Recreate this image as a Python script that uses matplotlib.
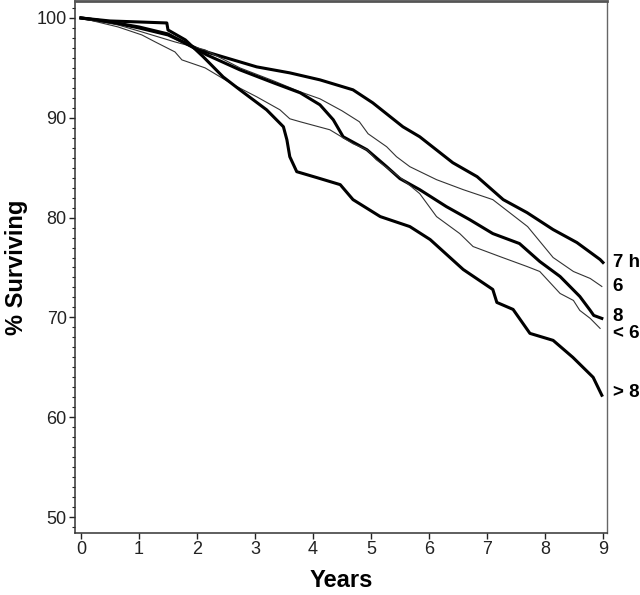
import matplotlib
matplotlib.use("Agg")
import matplotlib.pyplot as plt
from matplotlib.ticker import MultipleLocator

# ---- data ----
t_7h = [0, 0.5, 1.0, 1.5, 2.05, 2.45, 3.03, 3.6, 4.12, 4.69, 5.03, 5.55, 5.84, 6.41, 6.83, 7.28, 7.69, 8.14, 8.55, 8.95, 9.0]
s_7h = [100, 99.6, 99.0, 98.3, 96.8, 96.1, 95.1, 94.5, 93.8, 92.8, 91.5, 89.1, 88.1, 85.5, 84.1, 81.8, 80.5, 78.8, 77.5, 75.8, 75.5]

t_6 = [0, 0.64, 1.05, 1.62, 2.14, 2.74, 3.32, 3.78, 4.12, 4.5, 4.8, 4.95, 5.27, 5.44, 5.67, 6.13, 6.59, 7.1, 7.7, 8.14, 8.49, 8.78, 8.98]
s_6 = [100, 99.3, 98.6, 97.6, 96.8, 95.0, 93.7, 92.6, 91.9, 90.7, 89.6, 88.4, 87.1, 86.1, 85.1, 83.8, 82.8, 81.8, 79.1, 76.0, 74.6, 73.9, 73.1]

t_8 = [0, 0.5, 1.0, 1.5, 2.17, 2.74, 3.32, 3.78, 4.12, 4.35, 4.52, 4.93, 5.27, 5.5, 5.84, 6.3, 6.7, 7.1, 7.56, 7.91, 8.26, 8.6, 8.78, 8.84, 8.98]
s_8 = [100, 99.6, 99.1, 98.4, 96.3, 94.8, 93.5, 92.5, 91.3, 89.8, 88.1, 86.8, 85.1, 83.9, 82.8, 81.1, 79.8, 78.4, 77.4, 75.6, 74.1, 72.1, 70.7, 70.2, 69.9]

t_lt6 = [0, 0.64, 1.05, 1.28, 1.45, 1.62, 1.74, 2.14, 2.63, 3.03, 3.43, 3.6, 3.78, 4.29, 4.69, 4.93, 5.09, 5.55, 5.84, 6.13, 6.53, 6.76, 7.22, 7.69, 7.91, 8.26, 8.49, 8.6, 8.78, 8.95]
s_lt6 = [100, 99.1, 98.3, 97.6, 97.1, 96.6, 95.8, 95.0, 93.3, 92.1, 90.8, 89.9, 89.6, 88.8, 87.4, 86.8, 85.8, 83.8, 82.4, 80.1, 78.4, 77.1, 76.1, 75.1, 74.6, 72.4, 71.7, 70.7, 69.9, 68.9]

t_gt8 = [0, 0.5, 1.0, 1.48, 1.5, 1.8, 2.11, 2.45, 2.74, 3.2, 3.49, 3.55, 3.6, 3.72, 4.07, 4.47, 4.69, 5.16, 5.67, 6.02, 6.59, 7.1, 7.17, 7.45, 7.74, 8.14, 8.48, 8.83, 8.98]
s_gt8 = [100, 99.7, 99.6, 99.5, 98.8, 97.8, 96.1, 94.1, 92.8, 90.8, 89.1, 87.8, 86.1, 84.6, 84.0, 83.3, 81.8, 80.1, 79.1, 77.8, 74.8, 72.8, 71.5, 70.8, 68.4, 67.7, 66.0, 64.0, 62.2]

curve_labels = ["7 h", "6", "8", "< 6", "> 8"]
label_y = [75.5, 73.1, 70.1, 68.4, 62.5]

x_ticks = list(range(0, 10))
y_ticks = [50, 60, 70, 80, 90, 100]

# ---- figure ----
plt.rcParams["font.family"] = ["Liberation Sans", "DejaVu Sans"]

fig = plt.figure(figsize=(6.4, 5.95), dpi=100)
ax = fig.add_axes([75 / 640, (595 - 533) / 595, (607 - 75) / 640, (533 - 1) / 595])

thick = dict(color="black", lw=2.2)
thin = dict(color="#333333", lw=0.8)

ax.plot(t_7h, s_7h, **thick)
ax.plot(t_6, s_6, **thin)
ax.plot(t_8, s_8, **thick)
ax.plot(t_lt6, s_lt6, **thin)
ax.plot(t_gt8, s_gt8, **thick)

for lab, yv in zip(curve_labels, label_y):
    ax.text(9.17, yv, lab, fontsize=13.5, fontweight="bold", ha="left", va="center",
            clip_on=False)

ax.set_xlim(-0.103, 9.069)
ax.set_ylim(48.4, 101.7)
ax.set_xticks(x_ticks)
ax.set_yticks(y_ticks)
ax.yaxis.set_minor_locator(MultipleLocator(1))

ax.tick_params(axis="both", which="major", direction="out", length=4, width=1,
               labelsize=13, colors="#222222", pad=2)
ax.tick_params(axis="y", which="minor", direction="out", length=2.2, width=0.8,
               colors="#222222")

for side in ["left", "bottom"]:
    ax.spines[side].set_color("#333333")
    ax.spines[side].set_linewidth(1.1)
ax.spines["top"].set_color("#555555")
ax.spines["top"].set_linewidth(2.0)
ax.spines["right"].set_color("#666666")
ax.spines["right"].set_linewidth(1.0)

ax.set_xlabel("Years", fontsize=17, fontweight="bold", labelpad=8)
ax.set_ylabel("% Surviving", fontsize=17, fontweight="bold", labelpad=6)

fig.savefig("out.png", dpi=100)
